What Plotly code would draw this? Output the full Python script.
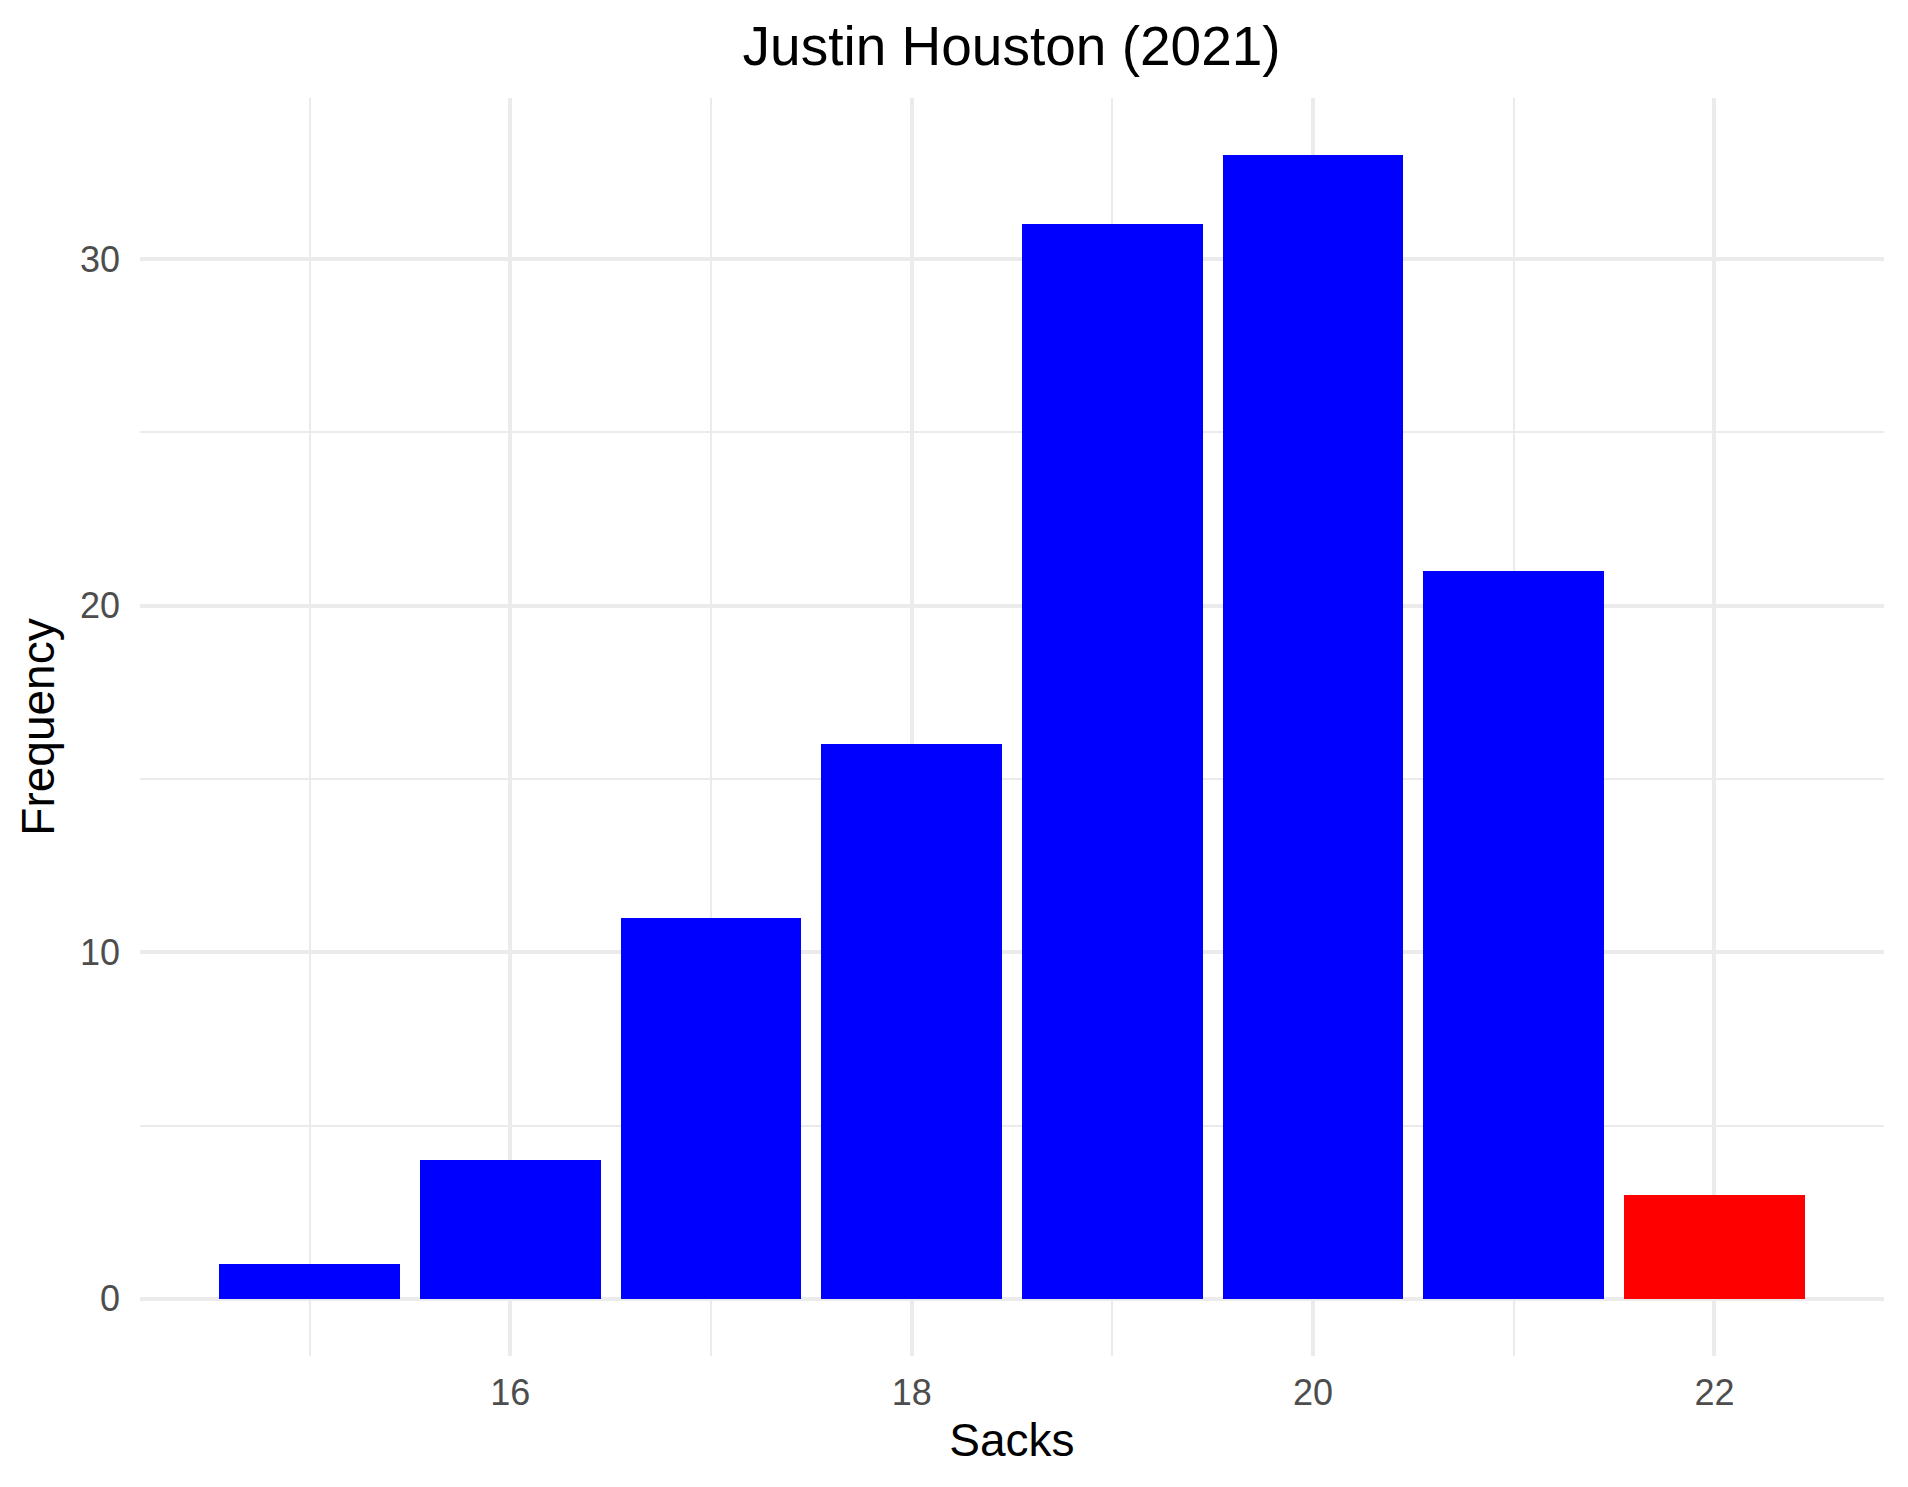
import plotly.graph_objects as go

sacks = [15, 16, 17, 18, 19, 20, 21, 22]
frequency = [1, 4, 11, 16, 31, 33, 21, 3]
bar_colors = ["#0000FF"] * 7 + ["#FF0000"]

FONT = "Liberation Sans, Arial, Helvetica, sans-serif"

fig = go.Figure(
    go.Bar(x=sacks, y=frequency, width=0.9, marker=dict(color=bar_colors, line=dict(width=0)),
           showlegend=False)
)

fig.update_layout(
    width=1908, height=1487,
    margin=dict(l=132, r=32, t=90, b=139, autoexpand=False),
    paper_bgcolor="white", plot_bgcolor="white",
    font=dict(family=FONT),
    title=dict(text="Justin Houston (2021)", x=0.526, xanchor="center",
               y=1 - 37.5 / 1487, yanchor="middle",
               font=dict(family=FONT, size=55, color="black")),
    bargap=0,
)

fig.update_xaxes(
    range=[14.155, 22.845], tick0=16, dtick=2, showgrid=True, gridcolor="#EBEBEB", gridwidth=4,
    minor=dict(dtick=1, tick0=15, showgrid=True, gridcolor="#EBEBEB", gridwidth=2),
    zeroline=False, showline=False, ticks="", automargin=False,
    tickfont=dict(family=FONT, size=36, color="#4D4D4D"), ticklabelstandoff=12,
    title=dict(text="Sacks", font=dict(family=FONT, size=46, color="black"), standoff=11),
)
fig.update_yaxes(
    range=[-1.65, 34.65], tick0=0, dtick=10, showgrid=True, gridcolor="#EBEBEB", gridwidth=4,
    minor=dict(dtick=5, tick0=0, showgrid=True, gridcolor="#EBEBEB", gridwidth=2),
    zeroline=False, showline=False, ticks="", automargin=False,
    tickfont=dict(family=FONT, size=36, color="#4D4D4D"), ticklabelstandoff=19,
    title=dict(text="Frequency", font=dict(family=FONT, size=46, color="black"), standoff=10),
)

fig.write_html("out.html")
